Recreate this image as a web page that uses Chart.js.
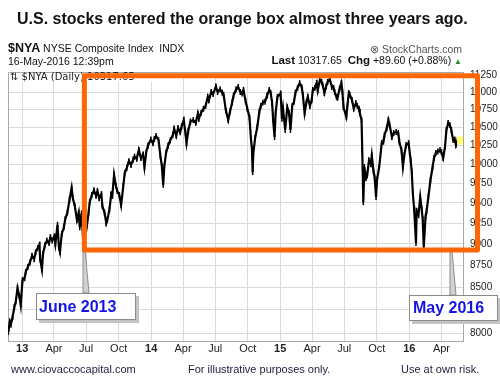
<!DOCTYPE html>
<html>
<head>
<meta charset="utf-8">
<script src="https://cdn.jsdelivr.net/npm/chart.js@4.4.0/dist/chart.umd.min.js"></script>
<style>
  html, body { margin: 0; padding: 0; background: #fff; }
  #wrap { position: relative; width: 500px; height: 386px; overflow: hidden; font-family: "Liberation Sans", Arial, sans-serif; color: #111; }
  #chart { position: absolute; left: 0; top: 0; }
  .t { position: absolute; white-space: nowrap; line-height: 1; }
  .callout { position: absolute; box-sizing: border-box; background: #fff; border: 1px solid #8a8a8a; box-shadow: 3px 3px 0 #c4c4c4;
             color: #1414e6; font-weight: bold; font-size: 16px; }
  .foot { font-size: 11px; color: #1c1c3c; top: 364px; }
</style>
</head>
<body>
<div id="wrap">
  <canvas id="chart" width="500" height="386"></canvas>

  <div class="t" style="left:17px;top:11px;font-weight:bold;font-size:16px;">U.S. stocks entered the orange box almost three years ago.</div>

  <div class="t" style="left:8px;top:42px;font-size:10.5px;"><b style="font-size:12.5px">$NYA</b> NYSE Composite Index&nbsp; INDX</div>
  <div class="t" style="right:38px;top:44px;font-size:10.5px;color:#555;">&#8855; StockCharts.com</div>
  <div class="t" style="left:8px;top:56px;font-size:10.5px;">16-May-2016 12:39pm</div>
  <div class="t" style="right:38px;top:55px;font-size:10.5px;"><b style="font-size:11.5px">Last</b> 10317.65&nbsp; <b style="font-size:11.5px">Chg</b> +89.60 (+0.88%) <span style="color:#2b8a2b;font-size:8px;">&#9650;</span></div>

  <div class="callout" style="left:36px;top:293px;width:100px;height:27px;line-height:25px;padding-left:2px;">June 2013</div>
  <div class="callout" style="left:409px;top:295px;width:89px;height:26px;line-height:24px;padding-left:3px;">May 2016</div>

  <div class="t foot" style="left:11px;">www.ciovaccocapital.com</div>
  <div class="t foot" style="left:188px;">For illustrative purposes only.</div>
  <div class="t foot" style="left:401px;">Use at own risk.</div>
</div>

<script>
// NYSE Composite ($NYA), daily
const priceDates = [
  '2012-11-23','2012-11-27','2012-11-30','2012-12-05','2012-12-10','2012-12-14','2012-12-19','2012-12-24','2012-12-28',
  '2013-01-02','2013-01-08','2013-01-11','2013-01-17','2013-01-23','2013-01-29','2013-02-04','2013-02-08','2013-02-14',
  '2013-02-19','2013-02-21','2013-02-26','2013-03-01','2013-03-06','2013-03-12','2013-03-18','2013-03-22','2013-03-27',
  '2013-04-02','2013-04-05','2013-04-11','2013-04-15','2013-04-18','2013-04-23','2013-04-29','2013-05-03','2013-05-09',
  '2013-05-15','2013-05-21','2013-05-24','2013-05-30','2013-06-05','2013-06-10','2013-06-13','2013-06-18','2013-06-24',
  '2013-06-27','2013-07-02','2013-07-08','2013-07-11','2013-07-17','2013-07-23','2013-07-29','2013-08-02','2013-08-07',
  '2013-08-13','2013-08-16','2013-08-22','2013-08-27','2013-08-30','2013-09-05','2013-09-10','2013-09-13','2013-09-18',
  '2013-09-23','2013-09-27','2013-10-03','2013-10-08','2013-10-14','2013-10-18','2013-10-24','2013-10-30','2013-11-05',
  '2013-11-11','2013-11-15','2013-11-21','2013-11-27','2013-12-03','2013-12-09','2013-12-13','2013-12-18','2013-12-23',
  '2013-12-31','2014-01-06','2014-01-10','2014-01-15','2014-01-22','2014-01-27','2014-01-31','2014-02-04','2014-02-07',
  '2014-02-12','2014-02-18','2014-02-24','2014-03-03','2014-03-07','2014-03-13','2014-03-18','2014-03-24','2014-03-28',
  '2014-04-03','2014-04-08','2014-04-11','2014-04-16','2014-04-22','2014-04-30','2014-05-07','2014-05-13','2014-05-16',
  '2014-05-22','2014-05-29','2014-06-04','2014-06-10','2014-06-13','2014-06-20','2014-06-25','2014-07-03','2014-07-08',
  '2014-07-15','2014-07-21','2014-07-25','2014-07-31','2014-08-07','2014-08-12','2014-08-18','2014-08-22','2014-08-29',
  '2014-09-04','2014-09-10','2014-09-15','2014-09-19','2014-09-25','2014-09-30','2014-10-06','2014-10-10','2014-10-13',
  '2014-10-15','2014-10-17','2014-10-22','2014-10-28','2014-11-03','2014-11-07','2014-11-13','2014-11-19','2014-11-25',
  '2014-12-01','2014-12-05','2014-12-09','2014-12-12','2014-12-16','2014-12-19','2014-12-24','2015-01-02','2015-01-06',
  '2015-01-09','2015-01-15','2015-01-21','2015-01-26','2015-01-30','2015-02-04','2015-02-09','2015-02-13','2015-02-19',
  '2015-02-25','2015-03-03','2015-03-06','2015-03-11','2015-03-16','2015-03-20','2015-03-26','2015-03-31','2015-04-03',
  '2015-04-09','2015-04-14','2015-04-17','2015-04-23','2015-04-28','2015-05-01','2015-05-06','2015-05-11','2015-05-15',
  '2015-05-21','2015-05-27','2015-06-01','2015-06-04','2015-06-09','2015-06-12','2015-06-18','2015-06-23','2015-06-26',
  '2015-06-29','2015-07-07','2015-07-10','2015-07-14','2015-07-17','2015-07-23','2015-07-28','2015-08-03','2015-08-07',
  '2015-08-12','2015-08-14','2015-08-19','2015-08-21','2015-08-24','2015-08-27','2015-09-01','2015-09-04','2015-09-09',
  '2015-09-14','2015-09-17','2015-09-22','2015-09-25','2015-09-29','2015-10-02','2015-10-08','2015-10-15','2015-10-20',
  '2015-10-23','2015-10-29','2015-11-03','2015-11-06','2015-11-13','2015-11-18','2015-11-25','2015-12-01','2015-12-04',
  '2015-12-10','2015-12-14','2015-12-18','2015-12-23','2015-12-30','2016-01-05','2016-01-08','2016-01-11','2016-01-15',
  '2016-01-20','2016-01-22','2016-01-27','2016-02-01','2016-02-05','2016-02-08','2016-02-11','2016-02-16','2016-02-19',
  '2016-02-24','2016-03-01','2016-03-07','2016-03-11','2016-03-16','2016-03-22','2016-03-28','2016-04-01','2016-04-06',
  '2016-04-11','2016-04-15','2016-04-20','2016-04-25','2016-04-29','2016-05-04','2016-05-09','2016-05-12','2016-05-16'
];
const priceValues = [
  8010, 8120, 8090, 8170, 8280, 8340, 8490, 8400, 8300,
  8580, 8600, 8670, 8730, 8780, 8860, 8820, 8900, 8950,
  8990, 8820, 8700, 8880, 8980, 9040, 9010, 9080, 9040,
  9090, 9000, 9230, 8960, 8904, 9120, 9200, 9300, 9380,
  9540, 9690, 9570, 9460, 9290, 9380, 9200, 9370, 8950,
  9150, 9180, 9380, 9510, 9600, 9660, 9590, 9650, 9560,
  9610, 9460, 9380, 9250, 9290, 9420, 9610, 9590, 9860,
  9720, 9650, 9600, 9474, 9710, 9880, 9950, 10040, 9990,
  10060, 10100, 10070, 10190, 10080, 10130, 9962, 10160, 10250,
  10330, 10280, 10340, 10380, 10320, 10110, 9980, 9730, 9960,
  10150, 10250, 10320, 10390, 10480, 10380, 10490, 10430, 10510,
  10600, 10420, 10283, 10450, 10580, 10600, 10560, 10690, 10620,
  10700, 10760, 10800, 10930, 10880, 11000, 10970, 11080, 11000,
  11040, 10990, 10960, 10740, 10600, 10720, 10850, 10950, 11040,
  11073, 11000, 10980, 11030, 10870, 10760, 10640, 10350, 10200,
  9895, 10150, 10350, 10500, 10720, 10800, 10850, 10860, 10950,
  11030, 10990, 10850, 10600, 10365, 10700, 10930, 10980, 10620,
  10760, 10462, 10780, 10700, 10462, 10800, 10860, 10990, 11060,
  11130, 11070, 10957, 10699, 10850, 10930, 10800, 10880, 11030,
  11060, 11132, 11020, 11176, 11150, 11103, 10986, 11080, 11147,
  11190, 11073, 11060, 11000, 10930, 10914, 11050, 11132, 11000,
  10780, 10643, 10800, 10986, 10960, 10885, 10760, 10840, 10800,
  10760, 10700, 10600, 10190, 9510, 9962, 9820, 9850, 10050,
  10000, 10120, 9900, 9830, 9575, 9800, 9962, 10283, 10300,
  10393, 10480, 10601, 10540, 10365, 10420, 10434, 10420, 10297,
  10189, 9962, 10120, 10256, 10283, 10050, 9900, 9626, 9412,
  9010, 9400, 9350, 9575, 9430, 9300, 8960, 9326, 9400,
  9575, 9793, 9962, 10080, 10148, 10170, 10189, 10160, 10080,
  10229, 10460, 10559, 10530, 10462, 10324, 10330, 10256, 10318
];

// axes
const xTickDates = ['2013-01-01','2013-04-01','2013-07-01','2013-10-01','2014-01-01','2014-04-01','2014-07-01',
                    '2014-10-01','2015-01-01','2015-04-01','2015-07-01','2015-10-01','2016-01-01','2016-04-01'];
const xTickLabels = ['13','Apr','Jul','Oct','14','Apr','Jul','Oct','15','Apr','Jul','Oct','16','Apr'];
const yTickValues = [8000, 8250, 8500, 8750, 9000, 9250, 9500, 9750, 10000, 10250, 10500, 10750, 11000, 11250];
const xStart = '2012-11-22';
const xEnd = '2016-06-01';
const yMin = 7916;
const yMax = 11295;

// the orange box and the two callout anchors
const boxFrom = '2013-06-26';
const boxTo = '2016-07-12';
const boxLow = 8928;
const boxHigh = 11240;
const calloutDates = ['2013-06-25', '2016-04-28'];
const calloutTops = [293, 295];
const lastValue = 10317.65;

const FONT = '"Liberation Sans", Arial, sans-serif';

function dayNum(s) {
  const [y, m, d] = s.split('-').map(Number);
  return (Date.UTC(y, m - 1, d) - Date.UTC(2013, 0, 1)) / 86400000;
}

const xTickDays = xTickDates.map(dayNum);

const overlay = {
  id: 'overlay',
  beforeDatasetsDraw(chart) {
    const { ctx, chartArea: a } = chart;
    ctx.save();
    ctx.strokeStyle = '#a8a8a8';
    ctx.lineWidth = 1;
    ctx.beginPath();
    ctx.moveTo(a.left + 0.5, a.bottom);
    ctx.lineTo(a.left + 0.5, a.top + 0.5);
    ctx.lineTo(a.right, a.top + 0.5);
    ctx.stroke();
    // legend strip
    ctx.fillStyle = '#fff';
    ctx.fillRect(a.left + 1, a.top + 1, 145, 9);
    ctx.fillStyle = '#222';
    ctx.font = '10px "DejaVu Sans", sans-serif';
    ctx.textBaseline = 'alphabetic';
    ctx.fillText('\u21C5 $NYA (Daily) 10317.65', a.left + 2, a.top + 8);
    ctx.restore();
  },
  afterDatasetsDraw(chart) {
    const { ctx, chartArea: a, scales } = chart;
    const y = scales.y.getPixelForValue(lastValue);
    ctx.save();
    ctx.fillStyle = '#ffff70';
    ctx.fillRect(a.right - 6, y - 4, 6, 8);
    ctx.restore();
  },
  afterDraw(chart) {
    const { ctx, scales } = chart;
    const x0 = scales.x.getPixelForValue(dayNum(boxFrom));
    const x1 = scales.x.getPixelForValue(dayNum(boxTo));
    const y0 = scales.y.getPixelForValue(boxHigh);
    const y1 = scales.y.getPixelForValue(boxLow);
    ctx.save();
    // callout pointers
    calloutDates.forEach((d, i) => {
      const px = scales.x.getPixelForValue(dayNum(d));
      const baseY = calloutTops[i];
      ctx.beginPath();
      ctx.moveTo(px - 1, y1);
      ctx.lineTo(px + 1, y1);
      ctx.lineTo(px + 5, baseY);
      ctx.lineTo(px - 1, baseY);
      ctx.closePath();
      ctx.fillStyle = '#d2d2d2';
      ctx.fill();
      ctx.strokeStyle = '#8c8c8c';
      ctx.lineWidth = 1;
      ctx.stroke();
    });
    ctx.strokeStyle = '#ff6600';
    ctx.lineWidth = 5;
    ctx.lineJoin = 'round';
    ctx.strokeRect(x0, y0, x1 - x0, y1 - y0);
    ctx.restore();
  }
};

new Chart(document.getElementById('chart'), {
  type: 'line',
  data: {
    datasets: [{
      label: '$NYA',
      data: priceDates.map((d, i) => ({ x: dayNum(d), y: priceValues[i] })),
      borderColor: '#000',
      borderWidth: 2.2,
      tension: 0,
      pointStyle: 'line',
      pointRotation: 90,
      pointRadius: 3,
      pointBorderWidth: 1.5,
      pointBorderColor: '#000',
      pointBackgroundColor: '#000'
    }]
  },
  options: {
    responsive: false,
    animation: false,
    devicePixelRatio: 1,
    layout: { padding: { left: 8, top: 72, right: 0, bottom: 0 } },
    plugins: { legend: { display: false }, tooltip: { enabled: false } },
    scales: {
      x: {
        type: 'linear',
        min: dayNum(xStart),
        max: dayNum(xEnd),
        afterBuildTicks: s => { s.ticks = xTickDays.map(v => ({ value: v })); },
        afterFit: s => { s.height = 45; },
        grid: { color: '#dadada', drawTicks: false },
        border: { color: '#a8a8a8' },
        ticks: {
          padding: 1,
          color: '#222',
          maxRotation: 0,
          autoSkip: false,
          callback: (v, i) => xTickLabels[i],
          font: c => ({ family: FONT, size: 11, weight: /^\d/.test(xTickLabels[c.index] || '') ? 'bold' : 'normal' })
        }
      },
      y: {
        type: 'logarithmic',
        position: 'right',
        min: yMin,
        max: yMax,
        afterBuildTicks: s => { s.ticks = yTickValues.map(v => ({ value: v })); },
        afterFit: s => { s.width = 37; },
        grid: { color: '#dadada', drawTicks: false },
        border: { color: '#a8a8a8' },
        ticks: {
          padding: 7,
          color: '#222',
          autoSkip: false,
          callback: v => String(v),
          font: { family: FONT, size: 10 }
        }
      }
    }
  },
  plugins: [overlay]
});
</script>
</body>
</html>
